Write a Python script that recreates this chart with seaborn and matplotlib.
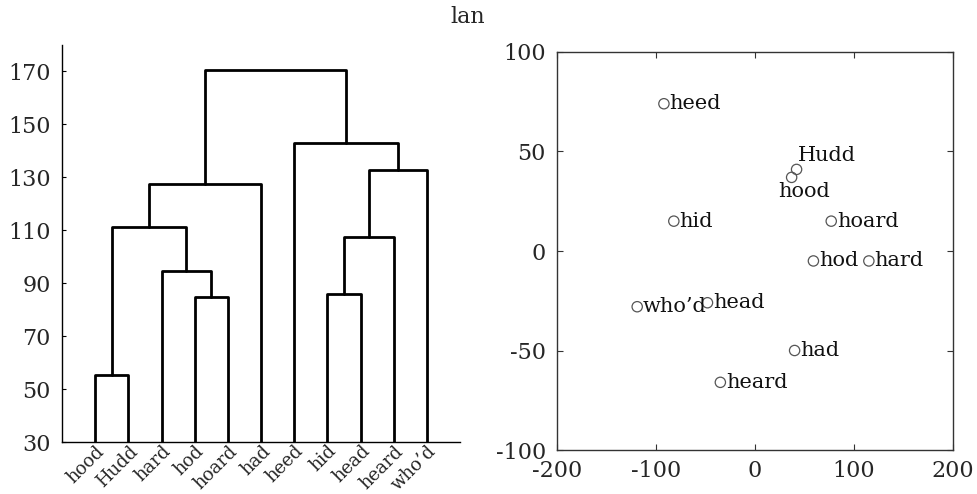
import numpy as np
import pandas as pd
import matplotlib
matplotlib.use("Agg")
import matplotlib.pyplot as plt
import matplotlib.transforms as mtransforms
import seaborn as sns

# Leaf order of the dendrogram (left to right)
leaves = ["hood", "Hudd", "hard", "hod", "hoard", "had",
          "heed", "hid", "head", "heard", "who\u2019d"]

# Agglomerative merges: (left member, right member, height).
# Members are leaf names or indices of earlier merges (as "#k").
merge_left = ["hood", "hod", "hard", "#0", "#3", "hid", "#5", "#6", "heed", "#4"]
merge_right = ["Hudd", "hoard", "#1", "#2", "had", "head", "heard", "who\u2019d", "#7", "#8"]
merge_height = [55.3, 84.6, 94.5, 111.2, 127.4, 85.8, 107.5, 132.9, 143.1, 170.4]

# 2-D embedding of the same words
words = ["heed", "Hudd", "hood", "hid", "hoard", "hod", "hard",
         "who\u2019d", "head", "had", "heard"]
coord_x = [-92, 42, 37, -82, 77, 59, 115, -119, -48, 40, -35]
coord_y = [74, 41, 37, 15, 15, -5, -5, -28, -26, -50, -66]

yticks_left = [30, 50, 70, 90, 110, 130, 150, 170]
ticks_x_right = [-200, -100, 0, 100, 200]
ticks_y_right = [-100, -50, 0, 50, 100]

sns.set_theme(style="white")
plt.rcParams["font.family"] = ["DejaVu Serif"]
plt.rcParams["axes.unicode_minus"] = False

fig = plt.figure(figsize=(9.77, 4.94), dpi=100)
ax1 = fig.add_axes([62 / 977, 1 - 442 / 494, (460 - 62) / 977, (442 - 45) / 494])
ax2 = fig.add_axes([557 / 977, 1 - 450 / 494, (953 - 557) / 977, (450 - 52) / 494])

# ---- dendrogram ----
pos = {name: i + 1 for i, name in enumerate(leaves)}
hgt = {name: 30.0 for name in leaves}
seg_x, seg_y = [], []
for k, (a, b, h) in enumerate(zip(merge_left, merge_right, merge_height)):
    xa, xb = pos[a], pos[b]
    ya, yb = hgt[a], hgt[b]
    seg_x.append([xa, xa, xb, xb])
    seg_y.append([ya, h, h, yb])
    pos[f"#{k}"] = (xa + xb) / 2
    hgt[f"#{k}"] = h

for sx, sy in zip(seg_x, seg_y):
    df = pd.DataFrame({"x": sx, "y": sy})
    sns.lineplot(data=df, x="x", y="y", sort=False, ax=ax1,
                 color="black", linewidth=2.0, estimator=None)

ax1.set_xlim(0, len(leaves) + 1)
ax1.set_ylim(30, 180)
ax1.set_yticks(yticks_left)
ax1.set_yticklabels([str(v) for v in yticks_left], fontsize=16)
ax1.set_xticks(range(1, len(leaves) + 1))
ax1.set_xticklabels(leaves, fontsize=13, rotation=45, ha="right",
                    va="top", rotation_mode="anchor")
shift = mtransforms.ScaledTranslation(7 / 100, 1 / 100, fig.dpi_scale_trans)
for lab in ax1.get_xticklabels():
    lab.set_transform(lab.get_transform() + shift)
ax1.set_xlabel("")
ax1.set_ylabel("")
for side in ("top", "right"):
    ax1.spines[side].set_visible(False)
for side in ("left", "bottom"):
    ax1.spines[side].set_color("black")
    ax1.spines[side].set_linewidth(1.0)
ax1.tick_params(axis="both", direction="in", length=3, width=0.8,
                color="black", left=True, bottom=True)
ax1.tick_params(axis="y", pad=8)
ax1.tick_params(axis="x", pad=0)

# ---- 2-D map ----
pts = pd.DataFrame({"x": coord_x, "y": coord_y, "w": words})
sns.scatterplot(data=pts, x="x", y="y", ax=ax2, marker="o", s=55,
                facecolor="none", edgecolor="#555555", linewidth=0.9)

label_offsets = {w: (4, 0) for w in words}
label_offsets["Hudd"] = (1, 10)
label_offsets["hood"] = (-10, -10)
for x, y, w in zip(coord_x, coord_y, words):
    dx, dy = label_offsets[w]
    ax2.annotate(w, (x, y), xytext=(dx, dy), textcoords="offset points",
                 ha="left", va="center", fontsize=15, color="#111111")

ax2.set_xlim(-200, 200)
ax2.set_ylim(-100, 100)
ax2.set_xticks(ticks_x_right)
ax2.set_yticks(ticks_y_right)
ax2.set_xticklabels([str(v) for v in ticks_x_right], fontsize=16)
ax2.set_yticklabels([str(v) for v in ticks_y_right], fontsize=16)
ax2.set_xlabel("")
ax2.set_ylabel("")
for side in ax2.spines:
    ax2.spines[side].set_visible(True)
    ax2.spines[side].set_color("#333333")
    ax2.spines[side].set_linewidth(1.0)
ax2.tick_params(axis="both", direction="in", length=4, width=0.8,
                color="#333333", top=True, right=True, left=True, bottom=True)
ax2.tick_params(axis="y", pad=8)
ax2.tick_params(axis="x", pad=7)

fig.text(468 / 977, 1 - 17 / 494, "lan", ha="center", va="center", fontsize=16)

fig.savefig("out.png", dpi=100)
